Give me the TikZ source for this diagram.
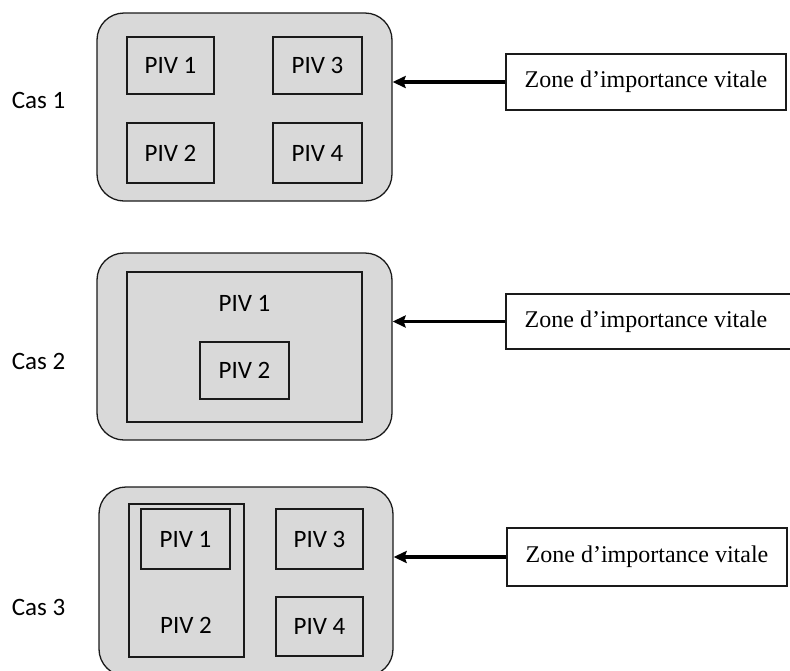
\documentclass[tikz,border=0pt]{standalone}
\usepackage{fontspec}
\setmainfont{Liberation Serif}
\newfontfamily\calfont{Carlito}
\usetikzlibrary{arrows.meta}
\definecolor{boxgray}{HTML}{D9D9D9}
\definecolor{linegray}{HTML}{1A1A1A}
\tikzset{
  outerbox/.style={draw=linegray, fill=boxgray, rounded corners=27pt, line width=1.3pt, inner sep=0pt},
  pivbox/.style={draw=linegray, line width=1.1pt, inner sep=0pt, font=\calfont\fontsize{25}{29}\selectfont},
  pivtext/.style={inner sep=0pt, font=\calfont\fontsize{25}{29}\selectfont},
  zonebox/.style={draw=linegray, fill=white, line width=1.1pt, inner sep=0pt, font=\fontsize{24}{28}\selectfont},
  caslabel/.style={inner sep=0pt, font=\calfont\fontsize{25}{29}\selectfont},
  arr/.style={-{Stealth[length=13pt,width=12pt,inset=2pt]}, line width=3.4pt}
}
\begin{document}
\begin{tikzpicture}[x=1pt,y=-1pt]
\useasboundingbox (0,0) rectangle (790,670);
\clip (0,0) rectangle (790,670);
% ---------------- Cas 1
\node[caslabel] (cas1) at (38.5,100) {Cas 1};
\node[outerbox, minimum width=295pt, minimum height=188pt] (c1) at (244.5,107) {};
\node[pivbox, minimum width=87pt, minimum height=57pt] (p11) at (170.5,65.5) {PIV 1};
\node[pivbox, minimum width=89pt, minimum height=57pt] (p13) at (317.5,65.5) {PIV 3};
\node[pivbox, minimum width=87pt, minimum height=60pt] (p12) at (170.5,153) {PIV 2};
\node[pivbox, minimum width=89pt, minimum height=60pt] (p14) at (317.5,153) {PIV 4};
\node[zonebox, minimum width=280pt, minimum height=56pt] (z1) at (646,82) {Zone d’importance vitale};
\draw[arr] (z1.west) -- (z1.west -| c1.east);
% ---------------- Cas 2
\node[caslabel] (cas2) at (38.5,361) {Cas 2};
\node[outerbox, minimum width=295pt, minimum height=187pt] (c2) at (244.5,346.5) {};
\node[pivbox, minimum width=235pt, minimum height=150pt] (p21) at (244.5,347) {};
\node[pivtext] (p21t) at (244.5,303) {PIV 1};
\node[pivbox, minimum width=89pt, minimum height=57pt] (p22) at (244.5,370.5) {PIV 2};
\node[zonebox, minimum width=294pt, minimum height=55pt] (z2) at (653,321.5) {Zone d’importance vitale\hspace*{14pt}};
\draw[arr] (z2.west) -- (z2.west -| c2.east);
% ---------------- Cas 3
\node[caslabel] (cas3) at (38.5,607) {Cas 3};
\node[outerbox, minimum width=294pt, minimum height=189pt] (c3) at (246,581.5) {};
\node[pivbox, minimum width=115pt, minimum height=153pt] (p32) at (186.5,580.5) {};
\node[pivtext] (p32t) at (186,625) {PIV 2};
\node[pivbox, minimum width=89pt, minimum height=60pt] (p31) at (185.5,539) {PIV 1};
\node[pivbox, minimum width=87pt, minimum height=60pt] (p33) at (319.5,539) {PIV 3};
\node[pivbox, minimum width=87pt, minimum height=59pt] (p34) at (319.5,626.5) {PIV 4};
\node[zonebox, minimum width=280pt, minimum height=58pt] (z3) at (647,557) {Zone d’importance vitale};
\draw[arr] (z3.west) -- (z3.west -| c3.east);
\end{tikzpicture}
\end{document}
